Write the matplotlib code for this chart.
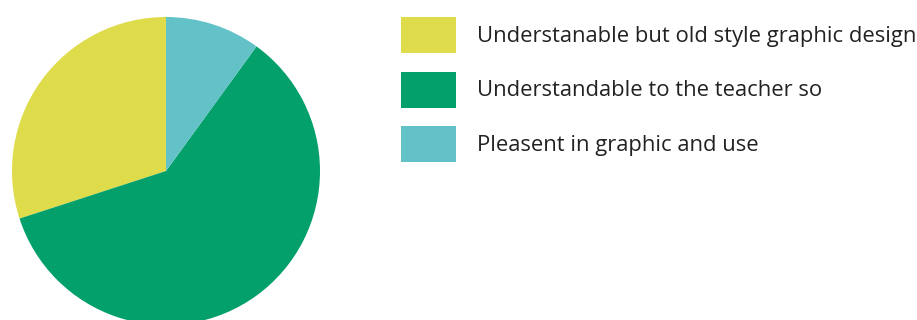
import matplotlib
matplotlib.use("Agg")
import matplotlib.pyplot as plt

# Данные диаграммы
labels = ["Understanable but old style graphic design",
          "Understandable to the teacher so",
          "Pleasent in graphic and use"]
shares = [30, 60, 10]
colors = ["#DEDC4A", "#04A06B", "#63C2C7"]

plt.rcParams['font.family'] = ['Open Sans', 'DejaVu Sans']

fig = plt.figure(figsize=(9.17, 3.2), dpi=100)
# круг: центр (166, 171) px, радиус 154 px
ax = fig.add_axes([12 / 917, -5 / 320, 308 / 917, 308 / 320])
wedges, _ = ax.pie(shares, colors=colors, startangle=90, counterclock=True,
                   wedgeprops=dict(linewidth=0))
ax.set_xlim(-1, 1)
ax.set_ylim(-1, 1)
ax.set_aspect('equal')
ax.axis('off')

# легенда: квадраты 55x36 px, шаг строк ~54 px
fig.legend(wedges, labels, loc='upper left',
           bbox_to_anchor=(401 / 917, 1 - 17 / 320), bbox_transform=fig.transFigure,
           frameon=False, fontsize=15.8, borderpad=0, borderaxespad=0,
           handlelength=2.507, handleheight=2.148, labelspacing=0.843,
           handletextpad=0.96, labelcolor='#222222')

fig.savefig("out.png", dpi=100)
